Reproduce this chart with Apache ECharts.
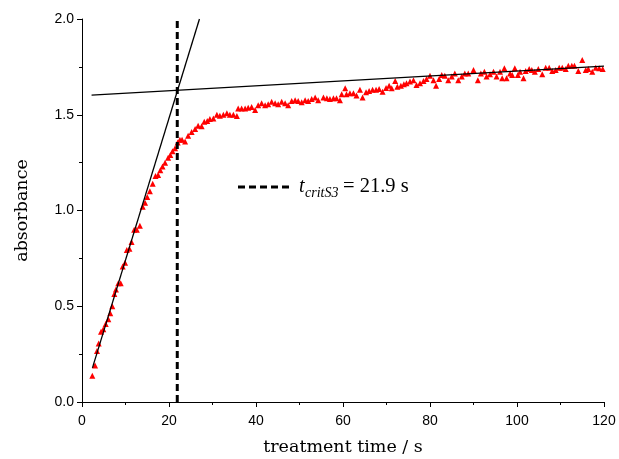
<!DOCTYPE html>
<html><head><meta charset="utf-8">
<script src="https://cdn.jsdelivr.net/npm/echarts@6/dist/echarts.min.js"></script>
<style>html,body{margin:0;padding:0;background:#fff}#c{width:619px;height:459px}</style>
</head><body><div id="c"></div>
<script>
var timeS = [2.37,3.0,3.45,3.83,4.37,4.9,5.44,6.05,6.5,6.97,7.43,7.8,8.35,8.9,9.35,9.9,10.3,10.9,11.4,12.0,12.6,13.3,13.95,14.5,15.0,15.6,16.25,16.9,17.5,18.0,18.5,19.1,19.8,20.3,20.8,21.4,22.0,22.5,23.0,23.7,24.4,25.2,26.0,26.7,27.5,28.1,28.8,29.4,30.2,31.0,31.7,32.5,33.3,34.0,34.8,35.6,35.9,36.7,37.5,38.2,39.0,39.8,40.5,41.3,42.1,42.8,43.6,44.4,45.1,45.9,46.7,47.4,48.2,49.0,49.7,50.5,51.3,52.0,52.8,53.6,54.3,55.5,56.3,57.0,57.8,58.5,59.3,59.7,60.5,60.8,61.6,62.4,63.1,63.9,64.5,65.3,66.0,66.8,67.6,68.3,69.1,69.9,70.6,71.2,72.0,72.5,73.3,74.0,74.6,75.4,76.2,76.9,77.7,78.5,79.2,80.0,80.8,81.4,82.1,82.7,83.4,84.2,85.0,85.7,86.5,87.3,88.0,88.8,90.0,91.0,91.7,92.5,93.0,93.8,94.6,95.3,96.1,96.6,97.1,97.6,98.4,98.9,99.5,100.2,100.7,101.5,102.0,102.8,103.4,104.1,104.9,105.8,106.6,107.4,108.1,108.9,109.7,110.4,111.2,111.8,112.6,113.2,114.1,115.0,115.8,116.4,117.3,118.1,118.9,119.7];
var absorbance = [0.137,0.19,0.266,0.306,0.367,0.38,0.407,0.432,0.463,0.50,0.564,0.588,0.62,0.62,0.707,0.727,0.794,0.80,0.835,0.90,0.90,0.92,1.02,1.04,1.07,1.10,1.14,1.18,1.185,1.21,1.23,1.25,1.275,1.29,1.31,1.325,1.355,1.37,1.37,1.36,1.39,1.41,1.425,1.443,1.44,1.464,1.467,1.478,1.48,1.50,1.495,1.50,1.508,1.50,1.50,1.493,1.533,1.533,1.533,1.537,1.54,1.525,1.55,1.56,1.55,1.555,1.568,1.56,1.555,1.568,1.56,1.55,1.572,1.576,1.572,1.565,1.576,1.572,1.582,1.59,1.576,1.59,1.586,1.582,1.586,1.586,1.576,1.607,1.638,1.607,1.612,1.612,1.60,1.63,1.59,1.617,1.624,1.63,1.63,1.634,1.62,1.64,1.652,1.638,1.676,1.646,1.652,1.659,1.664,1.673,1.68,1.655,1.664,1.676,1.687,1.704,1.68,1.652,1.687,1.707,1.704,1.68,1.70,1.716,1.68,1.70,1.716,1.716,1.734,1.68,1.716,1.725,1.70,1.712,1.725,1.70,1.725,1.69,1.743,1.69,1.716,1.707,1.743,1.707,1.725,1.69,1.729,1.739,1.734,1.725,1.739,1.712,1.746,1.746,1.729,1.734,1.746,1.746,1.739,1.756,1.756,1.756,1.729,1.786,1.734,1.739,1.725,1.746,1.743,1.739];
var steepFit = [[2.4, 0.178], [27.0, 2.0]];
var plateauFit = [[2.2, 1.603], [120, 1.754]];
var tCrit = 21.9;
var critLine = [[tCrit, 0], [tCrit, 2.0]];

var points = timeS.map(function (t, i) { return [t, absorbance[i]]; });
var chart = echarts.init(document.getElementById('c'), null, {renderer: 'canvas'});
var axisCommon = {
  axisLine: {show: true, lineStyle: {color: '#000', width: 1}},
  axisTick: {show: true, inside: false, length: 5, lineStyle: {color: '#000'}},
  minorTick: {show: true, splitNumber: 2, length: 3, lineStyle: {color: '#000'}},
  splitLine: {show: false},
  axisLabel: {color: '#000', fontFamily: 'Liberation Sans', fontSize: 14},
  nameTextStyle: {color: '#000', fontFamily: 'DejaVu Serif', fontSize: 17.5}
};
chart.setOption({
  animation: false,
  grid: {left: 82, right: 15, top: 19, bottom: 57, containLabel: false, outerBoundsMode: 'none'},
  xAxis: Object.assign({}, axisCommon, {
    type: 'value', min: 0, max: 120, interval: 20,
    name: 'treatment time / s', nameLocation: 'middle', nameGap: 36,
    axisLabel: Object.assign({}, axisCommon.axisLabel, {margin: 12})
  }),
  yAxis: Object.assign({}, axisCommon, {
    type: 'value', min: 0, max: 2.0, interval: 0.5,
    name: 'absorbance', nameLocation: 'middle', nameGap: 51, nameRotate: 90,
    axisLabel: Object.assign({}, axisCommon.axisLabel, {margin: 8, formatter: function (v) { return v.toFixed(1); }})
  }),
  series: [
    {type: 'scatter', data: points, symbol: 'triangle', symbolSize: 6, itemStyle: {color: '#ff0000', opacity: 1}, z: 3},
    {type: 'line', data: steepFit, symbol: 'none', lineStyle: {color: '#000', width: 1.3}, z: 4},
    {type: 'line', data: plateauFit, symbol: 'none', lineStyle: {color: '#000', width: 1.3}, z: 4},
    {type: 'line', data: critLine, symbol: 'none', lineStyle: {color: '#000', width: 3, type: [7, 4]}, z: 5}
  ],
  graphic: [
    {type: 'line', shape: {x1: 238, y1: 187, x2: 293, y2: 187}, style: {stroke: '#000', lineWidth: 3, lineDash: [7, 4]}},
    {type: 'text', x: 299, y: 187, style: {text: 't', font: 'italic 20px "Liberation Serif"', fill: '#000', verticalAlign: 'middle'}},
    {type: 'text', x: 305, y: 193, style: {text: 'critS3', font: 'italic 14px "Liberation Serif"', fill: '#000', verticalAlign: 'middle'}},
    {type: 'text', x: 343, y: 187, style: {text: '= 21.9 s', font: '20.5px "Liberation Serif"', fill: '#000', verticalAlign: 'middle'}}
  ]
});
</script></body></html>
